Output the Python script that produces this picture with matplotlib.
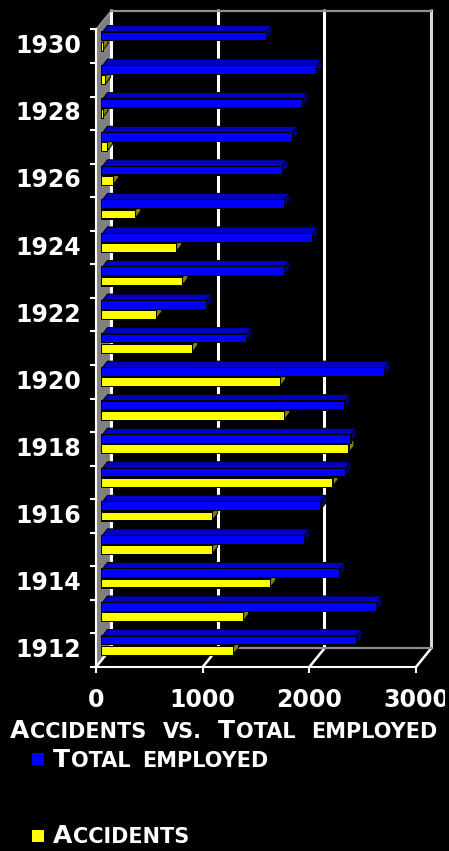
import re
import matplotlib
matplotlib.use("Agg")
import matplotlib.pyplot as plt
from matplotlib.patches import Rectangle

# data
years = [1912, 1913, 1914, 1915, 1916, 1917, 1918, 1919, 1920, 1921,
         1922, 1923, 1924, 1925, 1926, 1927, 1928, 1929, 1930]
total_employed = [2385, 2573, 2225, 1897, 2047, 2282, 2329, 2272, 2648, 1352,
                  977, 1709, 1972, 1706, 1687, 1781, 1875, 2007, 1537]
accidents = [1230, 1324, 1577, 1033, 1033, 2160, 2310, 1709, 1671, 845,
             507, 751, 695, 310, 103, 47, 5, 30, 5]
x_ticks = [0, 1000, 2000, 3000]
title = "Accidents vs. Total employed"
series_names = ["Total employed", "Accidents"]

W, H = 449, 851
LEFT, RIGHT, TOP, BOTTOM = 96, 416, 29.5, 667
XU = 3000 / (RIGHT - LEFT)       # value units per pixel
YU = len(years) / (BOTTOM - TOP)  # category units per pixel

# 3d look
WALL_DX = 15 * XU
WALL_DY = 18.5 * YU
BAR_X0 = 6 * XU
BAR_DX = 5.5 * XU
BAR_DY = 7 * YU
BLUE_Y = (6 * YU, 13.7 * YU)      # below / above the band centre
YELLOW_Y = (-4.3 * YU, 3.5 * YU)
OUT_X = 1.2 * XU
OUT_Y = 1.2 * YU

fig = plt.figure(figsize=(W / 100, H / 100), dpi=100, facecolor="black")
ax = fig.add_axes([LEFT / W, 1 - BOTTOM / H, (RIGHT - LEFT) / W, (BOTTOM - TOP) / H])
ax.patch.set_visible(False)
ax.set_xlim(0, 3000)
ax.set_ylim(-0.5, len(years) - 0.5)

y_lo, y_hi = ax.get_ylim()

# left wall
ax.fill([0, WALL_DX, WALL_DX, 0], [y_lo, y_lo + WALL_DY, y_hi + WALL_DY, y_hi],
        color="#808080", lw=0, clip_on=False, zorder=1)

# back grid lines and frame
for v in x_ticks:
    col = "#d8d8d8" if v == 3000 else "white"
    ax.plot([v + WALL_DX, v + WALL_DX], [y_lo + WALL_DY, y_hi + WALL_DY + 2 * YU],
            color=col, lw=2.2, clip_on=False, zorder=2, solid_capstyle="butt")
    ax.plot([v, v + WALL_DX], [y_lo, y_lo + WALL_DY], color="white", lw=1.8,
            clip_on=False, zorder=2)
ax.plot([WALL_DX, 3000 + WALL_DX], [y_hi + WALL_DY] * 2, color="#909090", lw=1.6,
        clip_on=False, zorder=2)
ax.plot([WALL_DX, 3000 + WALL_DX], [y_lo + WALL_DY] * 2, color="#909090", lw=1.6,
        clip_on=False, zorder=2)
ax.plot([0, WALL_DX], [y_hi, y_hi + WALL_DY], color="#909090", lw=1.2,
        clip_on=False, zorder=2)


def draw_bar(i, value, span, front, top, side, z):
    # black backing first so the outline sits outside the coloured face
    y0, y1 = i + span[0], i + span[1]
    r = BAR_X0 + value
    if top is not None:
        ax.fill([BAR_X0, BAR_X0 + BAR_DX, r + BAR_DX, r],
                [y1, y1 + BAR_DY, y1 + BAR_DY, y1],
                facecolor=top, edgecolor="black", lw=0.7, clip_on=False, zorder=z)
    ax.fill([r, r + BAR_DX, r + BAR_DX, r],
            [y1, y1 + BAR_DY, y0 + BAR_DY, y0],
            facecolor=side, edgecolor="black", lw=0.7, clip_on=False, zorder=z)
    ax.barh((y0 + y1) / 2, value + 2 * OUT_X, left=BAR_X0 - OUT_X, height=y1 - y0 + 2 * OUT_Y,
            color="black", lw=0, clip_on=False, zorder=z)
    ax.barh((y0 + y1) / 2, value, left=BAR_X0, height=y1 - y0,
            color=front, lw=0, clip_on=False, zorder=z)


# bars, back to front
for i in range(len(years) - 1, -1, -1):
    z = 3 + (len(years) - i) * 0.1
    draw_bar(i, accidents[i], YELLOW_Y, "#ffff00", None, "#808000", z)
    draw_bar(i, total_employed[i], BLUE_Y, "#0000ff", "#0000c0", "#000080", z)

# axes
for s in ["top", "right"]:
    ax.spines[s].set_visible(False)
for s in ["left", "bottom"]:
    ax.spines[s].set_color("white")
    ax.spines[s].set_linewidth(1.5)
    ax.spines[s].set_zorder(2.5)

ax.set_xticks(x_ticks)
ax.tick_params(axis="x", colors="white", length=4, width=1.5, pad=11, labelsize=17)
ax.set_yticks([i - 0.5 for i in range(len(years) + 1)])
ax.set_yticklabels([])
ax.tick_params(axis="y", which="major", colors="white", length=4, width=1.5)
# labels sit a little above the band centre
ax.set_yticks([i + 2.5 * YU for i in range(0, len(years), 2)], minor=True)
ax.set_yticklabels([str(years[i]) for i in range(0, len(years), 2)], minor=True)
ax.tick_params(axis="y", which="minor", colors="white", length=0, pad=10.5, labelsize=17)
for lab in ax.get_xticklabels() + ax.get_yticklabels(minor=True):
    lab.set_fontweight("bold")

# 3000 runs off the picture in the reference
clip = Rectangle((0, 0), 445 / W, 1, transform=fig.transFigure)
for lab in ax.get_xticklabels():
    lab.set_clip_path(clip)
    lab.set_clip_on(True)


def small_caps(x_px, base_px, text, big, small, gap):
    # no small caps font here, so write capitals and lower case in two sizes
    rend = fig.canvas.get_renderer()
    x = x_px
    for word in text.split(" "):
        for run in re.findall(r"[A-Z]+|[^A-Z]+", word):
            upper = run.isupper()
            t = fig.text(x / W, 1 - base_px / H, run.upper(), color="white",
                         fontsize=big if upper else small, fontweight="bold",
                         ha="left", va="baseline")
            x += t.get_window_extent(rend).width + 1
        x += gap


small_caps(10, 738, title, 18, 15, 15)
small_caps(53, 767, series_names[0], 18, 15, 10)
small_caps(53, 843, series_names[1], 18, 15, 10)

for y_px, col in [(753, "#0000ff"), (830, "#ffff00")]:
    fig.add_artist(Rectangle((32 / W, 1 - (y_px + 11.5) / H), 12 / W, 11.5 / H, facecolor=col,
                             edgecolor="none", transform=fig.transFigure))

fig.savefig("out.png", dpi=100, facecolor="black")
